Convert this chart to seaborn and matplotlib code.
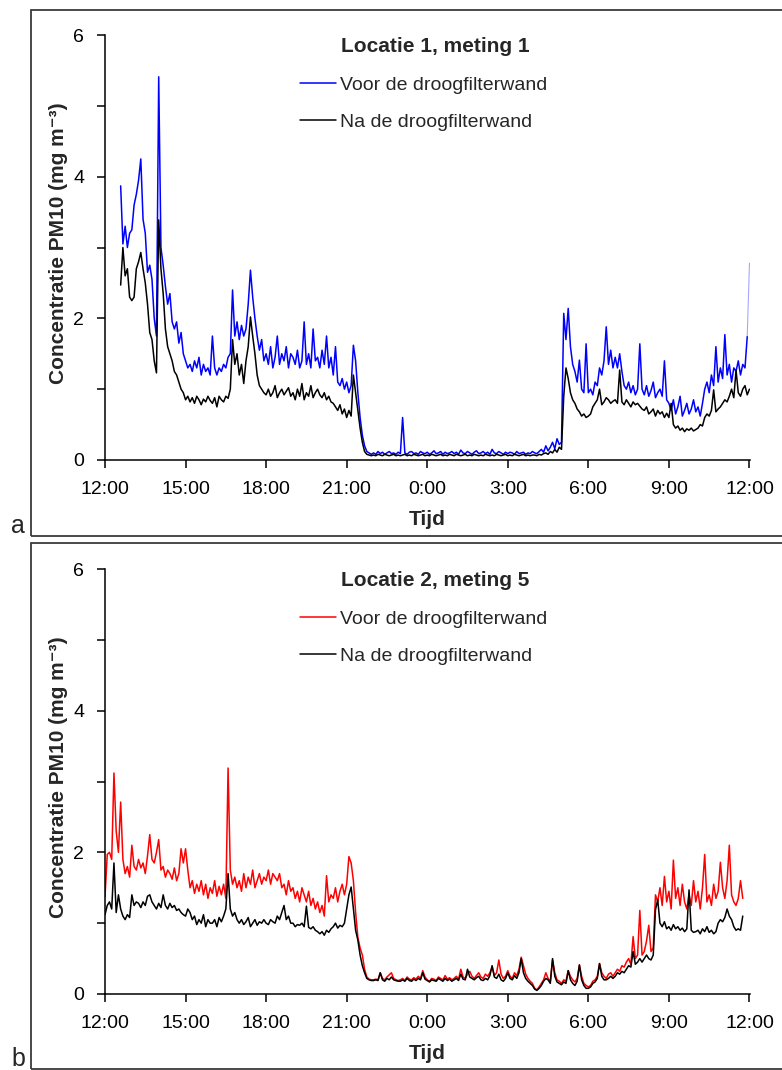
import numpy as np
import pandas as pd
import matplotlib
matplotlib.use("Agg")
import matplotlib.pyplot as plt
from matplotlib.lines import Line2D
from matplotlib.patches import Rectangle
import seaborn as sns

# ---------------- data ----------------
TICK_LABELS = ["12:00", "15:00", "18:00", "21:00", "0:00", "3:00", "6:00", "9:00", "12:00"]
TICK_HOURS = [0, 3, 6, 9, 12, 15, 18, 21, 24]          # hours after 12:00
STEP_MIN = 5                                           # sampling interval (minutes)
START_A = 35 / 60                                      # panel a starts 12:35
START_B = 0.0                                          # panel b starts 12:00

TITLE_A = "Locatie 1, meting 1"
TITLE_B = "Locatie 2, meting 5"
LABEL_VOOR = "Voor de droogfilterwand"
LABEL_NA = "Na de droogfilterwand"

# Panel a, before wall (blue), one row per clock hour
VOOR_A = (
    [3.87, 3.05, 3.3, 3.0, 3.2] +                                            # 12
    [3.25, 3.6, 3.75, 3.95, 4.25, 3.4, 3.2, 2.65, 2.75, 2.55, 2.0, 1.75] +   # 13
    [5.41, 3.0, 2.75, 2.45, 2.2, 2.35, 1.95, 1.85, 1.95, 1.65, 1.8, 1.5] +   # 14
    [1.4, 1.3, 1.35, 1.25, 1.4, 1.3, 1.45, 1.2, 1.35, 1.25, 1.3, 1.2] +      # 15
    [1.75, 1.3, 1.2, 1.3, 1.25, 1.35, 1.3, 1.45, 1.5, 2.4, 1.75, 1.95] +     # 16
    [1.7, 1.9, 1.75, 1.85, 2.2, 2.68, 2.3, 2.0, 1.75, 1.55, 1.7, 1.4] +      # 17
    [1.5, 1.35, 1.6, 1.3, 1.45, 1.75, 1.35, 1.5, 1.4, 1.6, 1.3, 1.5] +       # 18
    [1.45, 1.35, 1.55, 1.3, 1.4, 1.95, 1.35, 1.5, 1.3, 1.85, 1.4, 1.45] +    # 19
    [1.3, 1.55, 1.35, 1.75, 1.3, 1.45, 1.2, 1.6, 1.1, 1.05, 1.15, 1.0] +     # 20
    [1.1, 0.95, 1.05, 1.62, 1.4, 0.95, 0.6, 0.35, 0.2, 0.12, 0.1, 0.08] +    # 21
    [0.1, 0.08, 0.12, 0.09, 0.11, 0.08, 0.1, 0.12, 0.09, 0.1, 0.08, 0.11] +  # 22
    [0.09, 0.6, 0.1, 0.08, 0.11, 0.12, 0.09, 0.1, 0.08, 0.12, 0.1, 0.09] +   # 23
    [0.11, 0.08, 0.1, 0.13, 0.09, 0.1, 0.12, 0.08, 0.11, 0.09, 0.1, 0.12] +  # 0
    [0.09, 0.11, 0.08, 0.14, 0.1, 0.09, 0.12, 0.1, 0.08, 0.11, 0.13, 0.09] + # 1
    [0.1, 0.12, 0.09, 0.11, 0.08, 0.15, 0.1, 0.09, 0.12, 0.1, 0.08, 0.11] +  # 2
    [0.09, 0.11, 0.1, 0.08, 0.12, 0.09, 0.1, 0.11, 0.08, 0.1, 0.09, 0.12] +  # 3
    [0.1, 0.09, 0.12, 0.15, 0.11, 0.2, 0.13, 0.18, 0.25, 0.16, 0.3, 0.22] +  # 4
    [0.25, 2.07, 1.7, 2.14, 1.6, 1.35, 1.25, 1.1, 1.41, 1.0, 0.95, 1.64] +   # 5
    [0.95, 1.0, 0.92, 1.1, 1.05, 1.3, 1.2, 1.4, 1.88, 1.35, 1.55, 1.3] +     # 6
    [1.45, 1.3, 1.5, 1.25, 1.05, 1.0, 1.1, 0.95, 1.05, 0.92, 1.0, 1.64] +    # 7
    [1.0, 0.92, 1.05, 0.9, 0.98, 1.1, 0.88, 0.95, 1.0, 0.9, 1.4, 0.85] +     # 8
    [0.8, 0.7, 0.85, 0.65, 0.75, 0.9, 0.62, 0.7, 0.8, 0.65, 0.72, 0.85] +    # 9
    [0.68, 0.75, 0.62, 0.8, 1.0, 1.1, 0.95, 1.2, 1.05, 1.6, 1.1, 1.3] +      # 10
    [1.15, 1.77, 1.2, 1.35, 1.1, 1.3, 1.25, 1.4, 1.2, 1.35, 1.3, 1.74] +     # 11
    [2.78]                                                                   # 12
)

# Panel a, after wall (black)
NA_A = (
    [2.47, 3.0, 2.6, 2.7, 2.3] +                                             # 12
    [2.25, 2.3, 2.7, 2.8, 2.93, 2.7, 2.5, 2.2, 1.8, 1.7, 1.4, 1.23] +        # 13
    [3.39, 2.7, 2.35, 1.85, 1.6, 1.5, 1.4, 1.25, 1.2, 1.1, 1.0, 0.95] +      # 14
    [0.85, 0.9, 0.82, 0.88, 0.8, 0.9, 0.85, 0.78, 0.86, 0.82, 0.9, 0.84] +   # 15
    [0.8, 0.88, 0.75, 0.9, 0.85, 0.82, 0.9, 0.87, 1.0, 1.7, 1.35, 1.5] +     # 16
    [1.2, 1.35, 1.08, 1.4, 1.6, 2.02, 1.75, 1.5, 1.2, 1.05, 1.0, 0.95] +     # 17
    [0.92, 1.0, 0.9, 0.95, 1.05, 0.88, 0.95, 1.0, 0.92, 0.97, 1.02, 0.9] +   # 18
    [0.95, 0.85, 1.0, 0.9, 1.08, 0.85, 0.95, 0.9, 1.05, 0.88, 0.95, 1.0] +   # 19
    [0.92, 0.88, 0.95, 0.85, 0.9, 0.82, 0.8, 0.75, 0.7, 0.78, 0.65, 0.72] +  # 20
    [0.6, 0.7, 0.62, 1.2, 0.95, 0.7, 0.45, 0.25, 0.12, 0.08, 0.07, 0.06] +   # 21
    [0.07, 0.06, 0.08, 0.07, 0.06, 0.08, 0.07, 0.06, 0.07, 0.08, 0.06, 0.07] +  # 22
    [0.06, 0.07, 0.08, 0.06, 0.07, 0.06, 0.08, 0.07, 0.06, 0.07, 0.08, 0.06] +  # 23
    [0.07, 0.06, 0.08, 0.07, 0.06, 0.07, 0.08, 0.06, 0.07, 0.06, 0.08, 0.07] +  # 0
    [0.06, 0.08, 0.07, 0.06, 0.07, 0.08, 0.06, 0.07, 0.06, 0.08, 0.07, 0.06] +  # 1
    [0.07, 0.06, 0.08, 0.07, 0.06, 0.07, 0.06, 0.08, 0.07, 0.06, 0.07, 0.08] +  # 2
    [0.06, 0.07, 0.06, 0.08, 0.07, 0.06, 0.07, 0.08, 0.06, 0.07, 0.06, 0.07] +  # 3
    [0.07, 0.06, 0.08, 0.07, 0.09, 0.1, 0.08, 0.12, 0.1, 0.15, 0.11, 0.18] +    # 4
    [0.15, 0.9, 1.3, 1.15, 0.95, 0.85, 0.8, 0.72, 0.68, 0.62, 0.65, 0.6] +      # 5
    [0.62, 0.65, 0.75, 0.8, 0.85, 1.0, 0.78, 0.82, 0.88, 0.85, 0.8, 0.83] +     # 6
    [0.85, 0.8, 1.27, 0.82, 0.78, 0.85, 0.8, 0.75, 0.82, 0.78, 0.8, 0.76] +     # 7
    [0.72, 0.7, 0.75, 0.65, 0.68, 0.72, 0.62, 0.7, 0.65, 0.68, 0.6, 0.66] +     # 8
    [0.6, 0.8, 0.5, 0.45, 0.48, 0.42, 0.45, 0.4, 0.44, 0.42, 0.45, 0.41] +      # 9
    [0.43, 0.45, 0.5, 0.48, 0.6, 0.65, 0.62, 0.7, 0.99, 0.68, 0.72, 0.75] +     # 10
    [0.8, 0.85, 0.82, 0.9, 1.0, 0.88, 1.27, 0.95, 0.9, 1.0, 1.05, 0.92] +       # 11
    [1.0]                                                                       # 12
)

# Panel b, before wall (red)
VOOR_B = (
    [1.37, 1.97, 2.0, 1.9, 3.12, 2.3, 2.0, 2.71, 1.9, 1.7, 1.8, 1.65] +      # 12
    [2.1, 1.8, 1.75, 1.9, 1.78, 1.85, 1.7, 1.95, 2.25, 1.9, 1.85, 2.0] +     # 13
    [2.18, 1.75, 1.8, 1.65, 1.75, 1.7, 1.62, 1.78, 1.6, 1.7, 2.05, 1.85] +   # 14
    [2.05, 1.75, 1.5, 1.6, 1.42, 1.55, 1.45, 1.6, 1.4, 1.55, 1.35, 1.5] +    # 15
    [1.42, 1.6, 1.38, 1.52, 1.4, 1.55, 1.35, 3.19, 1.75, 1.55, 1.65, 1.5] +  # 16
    [1.6, 1.45, 1.7, 1.5, 1.65, 1.55, 1.75, 1.5, 1.6, 1.7, 1.55, 1.65] +     # 17
    [1.6, 1.75, 1.55, 1.7, 1.65, 1.6, 1.7, 1.5, 1.55, 1.4, 1.6, 1.45] +      # 18
    [1.5, 1.35, 1.45, 1.3, 1.5, 1.4, 1.3, 1.45, 1.25, 1.35, 1.2, 1.3] +      # 19
    [1.15, 1.25, 1.1, 1.67, 1.3, 1.4, 1.35, 1.5, 1.3, 1.45, 1.55, 1.4] +     # 20
    [1.55, 1.94, 1.85, 1.6, 1.15, 0.8, 0.65, 0.55, 0.35, 0.24, 0.21, 0.2] +  # 21
    [0.2, 0.21, 0.2, 0.3, 0.22, 0.2, 0.24, 0.27, 0.3, 0.22, 0.2, 0.19] +     # 22
    [0.2, 0.22, 0.19, 0.24, 0.21, 0.2, 0.23, 0.21, 0.25, 0.22, 0.33, 0.24] + # 23
    [0.2, 0.18, 0.22, 0.21, 0.19, 0.24, 0.22, 0.2, 0.26, 0.21, 0.23, 0.2] +  # 0
    [0.22, 0.25, 0.21, 0.35, 0.24, 0.22, 0.28, 0.32, 0.25, 0.22, 0.26, 0.3] + # 1
    [0.24, 0.22, 0.28, 0.25, 0.3, 0.38, 0.26, 0.3, 0.48, 0.28, 0.22, 0.25] + # 2
    [0.33, 0.25, 0.22, 0.3, 0.26, 0.35, 0.52, 0.4, 0.28, 0.22, 0.18, 0.15] + # 3
    [0.08, 0.06, 0.1, 0.15, 0.2, 0.3, 0.22, 0.18, 0.48, 0.3, 0.2, 0.18] +    # 4
    [0.15, 0.2, 0.18, 0.33, 0.25, 0.2, 0.17, 0.22, 0.41, 0.25, 0.15, 0.12] + # 5
    [0.1, 0.12, 0.18, 0.2, 0.25, 0.43, 0.3, 0.25, 0.22, 0.28, 0.3, 0.25] +   # 6
    [0.3, 0.35, 0.32, 0.4, 0.38, 0.45, 0.5, 0.42, 0.81, 0.5, 0.55, 1.18] +   # 7
    [0.55, 0.6, 0.75, 0.97, 0.6, 0.65, 1.4, 1.3, 1.5, 1.25, 1.66, 1.3] +     # 8
    [1.45, 1.2, 1.89, 1.35, 1.5, 1.25, 1.55, 1.3, 1.2, 1.4, 1.25, 1.6] +     # 9
    [1.3, 1.45, 1.2, 1.5, 1.97, 1.3, 1.4, 1.25, 1.55, 1.35, 1.45, 1.86] +    # 10
    [1.5, 1.35, 1.6, 2.1, 1.4, 1.3, 1.25, 1.35, 1.6, 1.35]                   # 11
)

# Panel b, after wall (black)
NA_B = (
    [1.12, 1.25, 1.3, 1.2, 1.85, 1.15, 1.4, 1.2, 1.1, 1.05, 1.12, 1.08] +    # 12
    [1.4, 1.25, 1.3, 1.28, 1.22, 1.3, 1.25, 1.38, 1.4, 1.3, 1.25, 1.2] +     # 13
    [1.28, 1.22, 1.4, 1.25, 1.2, 1.28, 1.22, 1.25, 1.18, 1.2, 1.15, 1.12] +  # 14
    [1.1, 1.2, 1.15, 1.05, 1.1, 0.98, 1.05, 1.0, 1.12, 0.95, 1.05, 1.0] +    # 15
    [1.0, 1.05, 0.95, 1.08, 1.02, 1.1, 1.2, 1.7, 1.2, 1.1, 1.15, 1.05] +     # 16
    [1.0, 1.05, 0.98, 1.02, 1.08, 0.95, 1.0, 1.05, 0.97, 1.02, 1.0, 1.05] +  # 17
    [1.0, 0.98, 1.05, 1.02, 1.0, 1.1, 1.05, 1.15, 1.25, 1.05, 1.1, 1.0] +    # 18
    [1.0, 0.95, 0.98, 0.97, 1.0, 0.95, 1.24, 0.94, 0.92, 0.95, 0.9, 0.88] +  # 19
    [0.85, 0.88, 0.83, 0.9, 0.87, 0.92, 0.95, 1.0, 0.93, 0.97, 0.95, 1.0] +  # 20
    [1.2, 1.4, 1.51, 1.2, 0.9, 0.76, 0.55, 0.4, 0.3, 0.22, 0.2, 0.19] +      # 21
    [0.19, 0.2, 0.19, 0.3, 0.2, 0.18, 0.22, 0.2, 0.24, 0.2, 0.19, 0.18] +    # 22
    [0.18, 0.2, 0.18, 0.22, 0.19, 0.18, 0.21, 0.19, 0.22, 0.2, 0.3, 0.21] +  # 23
    [0.19, 0.17, 0.2, 0.19, 0.18, 0.22, 0.2, 0.18, 0.22, 0.19, 0.21, 0.18] + # 0
    [0.2, 0.22, 0.19, 0.28, 0.21, 0.2, 0.35, 0.24, 0.22, 0.2, 0.23, 0.25] +  # 1
    [0.2, 0.19, 0.22, 0.2, 0.26, 0.4, 0.24, 0.22, 0.28, 0.2, 0.18, 0.22] +   # 2
    [0.3, 0.22, 0.2, 0.26, 0.22, 0.3, 0.5, 0.3, 0.22, 0.18, 0.15, 0.12] +    # 3
    [0.07, 0.05, 0.08, 0.12, 0.18, 0.22, 0.2, 0.15, 0.5, 0.25, 0.17, 0.15] + # 4
    [0.13, 0.17, 0.15, 0.33, 0.2, 0.15, 0.12, 0.18, 0.41, 0.2, 0.12, 0.08] + # 5
    [0.08, 0.1, 0.15, 0.17, 0.22, 0.43, 0.25, 0.2, 0.2, 0.22, 0.25, 0.22] +  # 6
    [0.25, 0.3, 0.28, 0.32, 0.3, 0.35, 0.4, 0.38, 0.6, 0.42, 0.45, 0.5] +    # 7
    [0.45, 0.5, 0.55, 0.5, 0.48, 0.55, 1.19, 1.33, 1.0, 0.95, 1.02, 0.92] +  # 8
    [0.95, 0.9, 0.98, 0.92, 0.95, 0.9, 0.93, 0.88, 0.92, 1.47, 0.9, 0.87] +  # 9
    [0.88, 0.9, 0.85, 0.92, 0.88, 0.95, 0.87, 0.9, 0.85, 0.88, 1.0, 1.05] +  # 10
    [1.02, 1.08, 1.2, 1.1, 1.05, 0.95, 0.9, 0.92, 0.9, 1.1]                  # 11
)


def frame(start, voor, na):
    t_voor = start + np.arange(len(voor)) * STEP_MIN / 60
    t_na = start + np.arange(len(na)) * STEP_MIN / 60
    return (pd.DataFrame({"t": t_voor, "v": voor}),
            pd.DataFrame({"t": t_na, "v": na}))


# ---------------- style ----------------
sns.set_style("ticks")
plt.rcParams["font.family"] = ["Liberation Sans", "DejaVu Sans"]
plt.rcParams["axes.linewidth"] = 1.1

W, H = 782, 1070
fig = plt.figure(figsize=(W / 100, H / 100), dpi=100)


def fx(px):
    return px / W


def fy(py):
    return 1 - py / H


def panel(top_px, voor, na, color, title, letter, box_top, box_bot, tail=False):
    ax = fig.add_axes([fx(105), fy(top_px + 425), fx(750) - fx(105), 425 / H])
    dv, dn = voor, na
    if tail:
        sns.lineplot(data=dv.iloc[:-1], x="t", y="v", ax=ax, color=color, lw=1.1)
        sns.lineplot(data=dv.iloc[-2:], x="t", y="v", ax=ax, color=color, lw=0.8, alpha=0.35)
    else:
        sns.lineplot(data=dv, x="t", y="v", ax=ax, color=color, lw=1.1)
    sns.lineplot(data=dn, x="t", y="v", ax=ax, color="black", lw=1.1)

    ax.set_xlim(0, 24.02)
    ax.set_ylim(0, 6)
    ax.set_xticks(TICK_HOURS)
    ax.set_xticklabels(TICK_LABELS)
    ax.set_yticks([0, 2, 4, 6])
    ax.set_yticks([1, 3, 5], minor=True)
    ax.tick_params(axis="both", which="both", direction="out", length=6, width=1.1,
                   labelsize=14, color="black", labelcolor="black")
    ax.tick_params(axis="x", pad=9)
    ax.tick_params(axis="y", pad=9)
    for s in ["top", "right"]:
        ax.spines[s].set_visible(False)
    for s in ["left", "bottom"]:
        ax.spines[s].set_color("black")

    ax.set_xlabel("Tijd", fontsize=15, fontweight="bold")
    ax.set_ylabel("Concentratie PM10 (mg m\u207b\u00b3)", fontsize=15, fontweight="bold")
    ax.xaxis.set_label_coords(0.5, -0.118)
    ax.yaxis.set_label_coords(-0.058, 0.51)

    # title of the legend block
    fig.text(fx(435), fy(top_px + 11), title, fontsize=15, fontweight="bold",
             ha="center", va="center")
    handles = [Line2D([], [], color=color, lw=1.1), Line2D([], [], color="black", lw=1.1)]
    ax.legend(handles, [LABEL_VOOR, LABEL_NA], frameon=False,
              loc="upper left", bbox_to_anchor=((300 - 105) / 645, (425 - 41) / 425),
              fontsize=14, handlelength=1.85, handletextpad=0.2, labelspacing=1.02,
              borderpad=0, borderaxespad=0)

    fig.patches.append(Rectangle((fx(31), fy(box_bot)), fx(800) - fx(31), (box_bot - box_top) / H,
                                 transform=fig.transFigure, fill=False,
                                 edgecolor="#3a3a3a", lw=1.3))
    fig.text(fx(11), fy(box_bot + 2), letter, fontsize=18, ha="left", va="bottom")
    return ax


va, na_ = frame(START_A, VOOR_A, NA_A)
panel(35, va, na_, "#0000FF", TITLE_A, "a", 10, 536, tail=True)
vb, nb = frame(START_B, VOOR_B, NA_B)
panel(569, vb, nb, "#FF0000", TITLE_B, "b", 543, 1069)

fig.savefig("out.png", dpi=100)
